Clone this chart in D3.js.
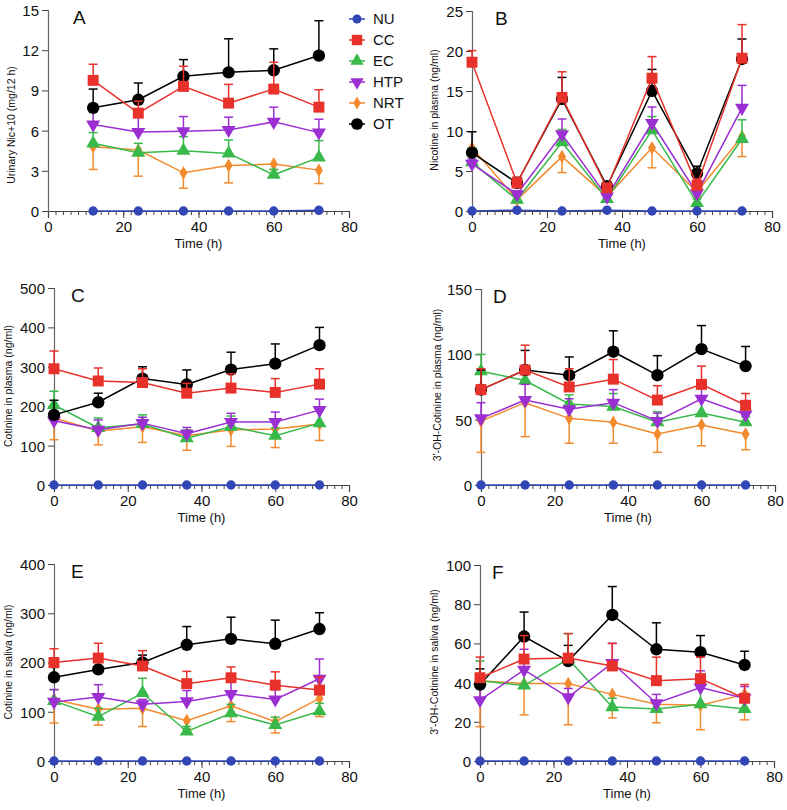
<!DOCTYPE html>
<html><head><meta charset="utf-8">
<script src="https://cdn.jsdelivr.net/npm/d3@7"></script>
<style>body{margin:0;background:#fff}svg{display:block}text{font-family:Arial,"Liberation Sans",sans-serif}</style>
</head><body>
<script>
// ---- data ----
const groups = ["NU","CC","EC","HTP","NRT","OT"];
const colors = ["#3346b5","#e8312b","#38b94a","#9b2fd2","#f28a2e","#000000"];
const timesA = [12,24,36,48,60,72];
const timesAll = [0,12,24,36,48,60,72];

// Panel A: Urinary Nic+10 (mg/12 h)
const aNU  = [0,0,0,0,0,0.05];
const aCC  = [9.75,7.3,9.3,8.05,9.1,7.75];
const aCCe = [10.95,8.2,10.8,9.45,11.1,9.05];
const aEC  = [5.05,4.35,4.5,4.3,2.7,4.0];
const aECe = [5.85,5.05,5.55,5.3,3.1,5.25];
const aHTP = [6.45,5.9,5.95,6.05,6.65,5.85];
const aHTPe= [7.8,7.0,7.05,7.0,7.75,6.85];
const aNRT = [4.8,4.55,2.85,3.4,3.5,3.05];
const aNRTe= [3.1,2.6,1.7,2.1,3.1,2.05];
const aOT  = [7.7,8.3,10.05,10.35,10.5,11.6];
const aOTe = [9.1,9.55,11.3,12.85,12.1,14.2];

// Panel B: Nicotine in plasma (ng/ml)
const bNU  = [0,0.1,0,0.1,0,0,0];
const bCC  = [18.6,3.5,14.2,2.9,16.6,3.2,19.1];
const bCCe = [20.05,4.2,17.4,3.4,19.3,4.0,23.3];
const bEC  = [6.1,1.4,8.6,1.5,10.1,1.0,9.0];
const bECe = [7.9,2.0,10.2,2.2,11.8,1.5,11.4];
const bHTP = [5.9,2.1,9.6,1.8,11.0,2.2,12.9];
const bHTPe= [6.5,2.5,11.5,2.3,13.0,2.9,15.7];
const bNRT = [7.9,1.4,6.8,1.8,7.9,2.4,9.3];
const bNRTe= [7.3,1.0,4.8,1.2,5.4,1.8,6.8];
const bOT  = [7.3,3.5,14.0,3.1,15.0,4.7,19.0];
const bOTe = [9.9,4.2,16.7,3.6,17.7,5.6,21.5];

// Panel C: Cotinine in plasma (ng/ml)
const cNU  = [0,0,0,0,0,0,0];
const cCC  = [295,264,260,233,246,235,256];
const cCCe = [340,297,295,258,282,270,295];
const cEC  = [203,145,155,119,148,125,157];
const cECe = [238,170,178,140,175,145,190];
const cHTP = [163,140,157,130,160,160,190];
const cHTPe= [180,165,172,146,182,185,218];
const cNRT = [170,137,148,125,140,142,155];
const cNRTe= [115,102,108,88,98,95,113];
const cOT  = [178,210,270,255,293,308,355];
const cOTe = [215,233,300,292,337,358,400];

// Panel D: 3'-OH-Cotinine in plasma (ng/ml)
const dNU  = [0,0,0,0,0,0,0];
const dCC  = [73,88,75,81,65,77,61];
const dCCe = [89,107,89,96,76,91,70];
const dEC  = [87,80,62,60,48,55,48];
const dECe = [100,90,69,70,56,65,52];
const dHTP = [51,65,58,63,49,66,54];
const dHTPe= [63,77,66,73,55,75,58];
const dNRT = [49,63,51,48,39,46,39];
const dNRTe= [25,37,32,32,25,30,27];
const dOT  = [73,88,84,102,84,104,91];
const dOTe = [88,103,98,118,99,122,106];

// Panel E: Cotinine in saliva (ng/ml)
const eNU  = [0,0,0,0,0,0,0];
const eCC  = [200,209,193,157,169,154,144];
const eCCe = [228,239,224,182,191,181,170];
const eEC  = [122,90,138,60,97,73,101];
const eECe = [145,107,168,70,115,89,117];
const eHTP = [120,130,115,121,136,125,167];
const eHTPe= [145,155,125,143,160,145,207];
const eNRT = [125,105,107,82,112,80,127];
const eNRTe= [77,73,70,65,80,57,90];
const eOT  = [170,186,200,236,248,238,268];
const eOTe = [190,205,215,273,292,286,301];

// Panel F: 3'-OH-Cotinine in saliva (ng/ml)
const fNU  = [0,0,0,0,0,0,0];
const fCC  = [42.5,52,52.5,48.5,41,42,32];
const fCCe = [53,64,65,60,53,53,39];
const fEC  = [41,38.5,52,27.5,26.5,29,26.5];
const fECe = [51,48,65,32,30,37,31];
const fHTP = [31,46.5,32.5,50,29.5,37.5,32];
const fHTPe= [37,57,37,60,34,46,38];
const fNRT = [41,39.5,39.5,34,29,28.5,34];
const fNRTe= [17.5,23.5,18.5,22,19.5,16,21];
const fOT  = [39,63.5,51,74.5,57,55.5,49];
const fOTe = [47,76,59,89,70.5,64,56];

// ---- layout ----
const W = 787, H = 810;
const svg = d3.select("body").append("svg").attr("width", W).attr("height", H);

const symbols = {
  NU:  {type: d3.symbolCircle, size: 70, rot: 0},
  CC:  {type: d3.symbolSquare, size: 120, rot: 0},
  EC:  {type: d3.symbolTriangle, size: 85, rot: 0},
  HTP: {type: d3.symbolTriangle, size: 85, rot: 180},
  NRT: {type: d3.symbolDiamond, size: 55, rot: 0},
  OT:  {type: d3.symbolCircle, size: 120, rot: 0}
};

const panels = [
  {id:"A", times: timesA, ymax:15, yticks:[0,3,6,9,12,15], x0:48, x1:349, y0:211, y1:10,
   ytitle:"Urinary Nic+10 (mg/12 h)", ytx:11, yty:125, xt:true,
   s:{NU:[aNU,null],CC:[aCC,aCCe],EC:[aEC,aECe],HTP:[aHTP,aHTPe],NRT:[aNRT,aNRTe],OT:[aOT,aOTe]}},
  {id:"B", times: timesAll, ymax:25, yticks:[0,5,10,15,20,25], x0:472, x1:772, y0:211, y1:11,
   ytitle:"Nicotine in plasma (ng/ml)", ytx:434, yty:110, xt:true,
   s:{NU:[bNU,null],CC:[bCC,bCCe],EC:[bEC,bECe],HTP:[bHTP,bHTPe],NRT:[bNRT,bNRTe],OT:[bOT,bOTe]}},
  {id:"C", times: timesAll, ymax:500, yticks:[0,100,200,300,400,500], x0:54, x1:349, y0:485, y1:288,
   ytitle:"Cotinine in plasma (ng/ml)", ytx:8, yty:386, xt:true,
   s:{NU:[cNU,null],CC:[cCC,cCCe],EC:[cEC,cECe],HTP:[cHTP,cHTPe],NRT:[cNRT,cNRTe],OT:[cOT,cOTe]}},
  {id:"D", times: timesAll, ymax:150, yticks:[0,50,100,150], x0:481, x1:775, y0:485, y1:289,
   ytitle:"3'-OH-Cotinine in plasma (ng/ml)", ytx:437, yty:385, xt:true,
   s:{NU:[dNU,null],CC:[dCC,dCCe],EC:[dEC,dECe],HTP:[dHTP,dHTPe],NRT:[dNRT,dNRTe],OT:[dOT,dOTe]}},
  {id:"E", times: timesAll, ymax:400, yticks:[0,100,200,300,400], x0:54, x1:349, y0:761, y1:564,
   ytitle:"Cotinine in saliva (ng/ml)", ytx:8, yty:662, xt:true,
   s:{NU:[eNU,null],CC:[eCC,eCCe],EC:[eEC,eECe],HTP:[eHTP,eHTPe],NRT:[eNRT,eNRTe],OT:[eOT,eOTe]}},
  {id:"F", times: timesAll, ymax:100, yticks:[0,20,40,60,80,100], x0:480, x1:774, y0:761, y1:565,
   ytitle:"3'-OH-Cotinine in saliva (ng/ml)", ytx:434, yty:662, xt:true,
   s:{NU:[fNU,null],CC:[fCC,fCCe],EC:[fEC,fECe],HTP:[fHTP,fHTPe],NRT:[fNRT,fNRTe],OT:[fOT,fOTe]}}
];

const drawOrder = ["NRT","EC","HTP","OT","CC","NU"];

panels.forEach(p => {
  const x = d3.scaleLinear().domain([0,80]).range([p.x0, p.x1]);
  const y = d3.scaleLinear().domain([0,p.ymax]).range([p.y0, p.y1]);
  const g = svg.append("g");

  // x axis: minor ticks
  const xMinor = d3.axisBottom(x).tickValues(d3.range(0,81,2)).tickSize(4).tickFormat("");
  g.append("g").attr("transform",`translate(0,${p.y0})`).call(xMinor)
    .call(a => a.selectAll("line").attr("stroke","#444"))
    .call(a => a.select(".domain").remove());
  const xAxis = d3.axisBottom(x).tickValues([0,20,40,60,80]).tickSize(7).tickPadding(3);
  g.append("g").attr("transform",`translate(0,${p.y0})`).call(xAxis)
    .call(a => a.select(".domain").attr("stroke","#444").attr("stroke-width",1.2))
    .call(a => a.selectAll("line").attr("stroke","#444"))
    .call(a => a.selectAll("text").attr("font-size",15).attr("fill","#111"));

  const yAxis = d3.axisLeft(y).tickValues(p.yticks).tickSize(6).tickPadding(3);
  g.append("g").attr("transform",`translate(${p.x0},0)`).call(yAxis)
    .call(a => a.select(".domain").attr("stroke","#666").attr("stroke-width",1.2))
    .call(a => a.selectAll("line").attr("stroke","#444"))
    .call(a => a.selectAll("text").attr("font-size",15).attr("fill","#111").attr("dy","0.36em"));

  // titles
  g.append("text").attr("x",(p.x0+p.x1)/2).attr("y",p.y0+37).attr("text-anchor","middle")
    .attr("font-size",13).attr("fill","#111").text("Time (h)");
  g.append("text").attr("transform",`translate(${p.ytx},${p.yty}) rotate(-90)`)
    .attr("text-anchor","middle").attr("dy","0.35em").attr("font-size",10.5).attr("fill","#111").text(p.ytitle);
  g.append("text").attr("x",x(0)+ (p.id==="A"?25:(p.id==="B"?23:(p.x0<100?17:12)))).attr("y",p.y1+14)
    .attr("font-size",19).attr("fill","#111").text(p.id);

  drawOrder.forEach(name => {
    const gi = groups.indexOf(name);
    const col = colors[gi];
    const [vals, errs] = p.s[name];
    const pts = p.times.map((t,i)=>({t, v: vals[i], e: errs ? errs[i] : null}));
    const sg = g.append("g");
    // error bars
    if (errs) {
      pts.forEach(d => {
        sg.append("line").attr("x1",x(d.t)).attr("x2",x(d.t)).attr("y1",y(d.v)).attr("y2",y(d.e))
          .attr("stroke",col).attr("stroke-width",1.5);
        sg.append("line").attr("x1",x(d.t)-4.5).attr("x2",x(d.t)+4.5).attr("y1",y(d.e)).attr("y2",y(d.e))
          .attr("stroke",col).attr("stroke-width",1.5);
      });
    }
    sg.append("path").datum(pts)
      .attr("d", d3.line().x(d=>x(d.t)).y(d=>y(d.v)))
      .attr("fill","none").attr("stroke",col).attr("stroke-width",1.5);
    const sym = symbols[name];
    sg.selectAll("path.m").data(pts).join("path").attr("class","m")
      .attr("d", d3.symbol().type(sym.type).size(sym.size))
      .attr("transform", d=>`translate(${x(d.t)},${y(d.v)}) rotate(${sym.rot})`)
      .attr("fill",col);
  });
});

// legend
const lg = svg.append("g");
groups.forEach((name,i) => {
  const yy = 19 + i*21;
  lg.append("line").attr("x1",349).attr("x2",365).attr("y1",yy).attr("y2",yy)
    .attr("stroke",colors[i]).attr("stroke-width",1.5);
  const sym = symbols[name];
  lg.append("path").attr("d", d3.symbol().type(sym.type).size(sym.size*0.9))
    .attr("transform",`translate(357,${yy}) rotate(${sym.rot})`).attr("fill",colors[i]);
  lg.append("text").attr("x",373).attr("y",yy).attr("dy","0.36em").attr("font-size",15)
    .attr("fill","#111").text(name);
});
</script>
</body></html>
